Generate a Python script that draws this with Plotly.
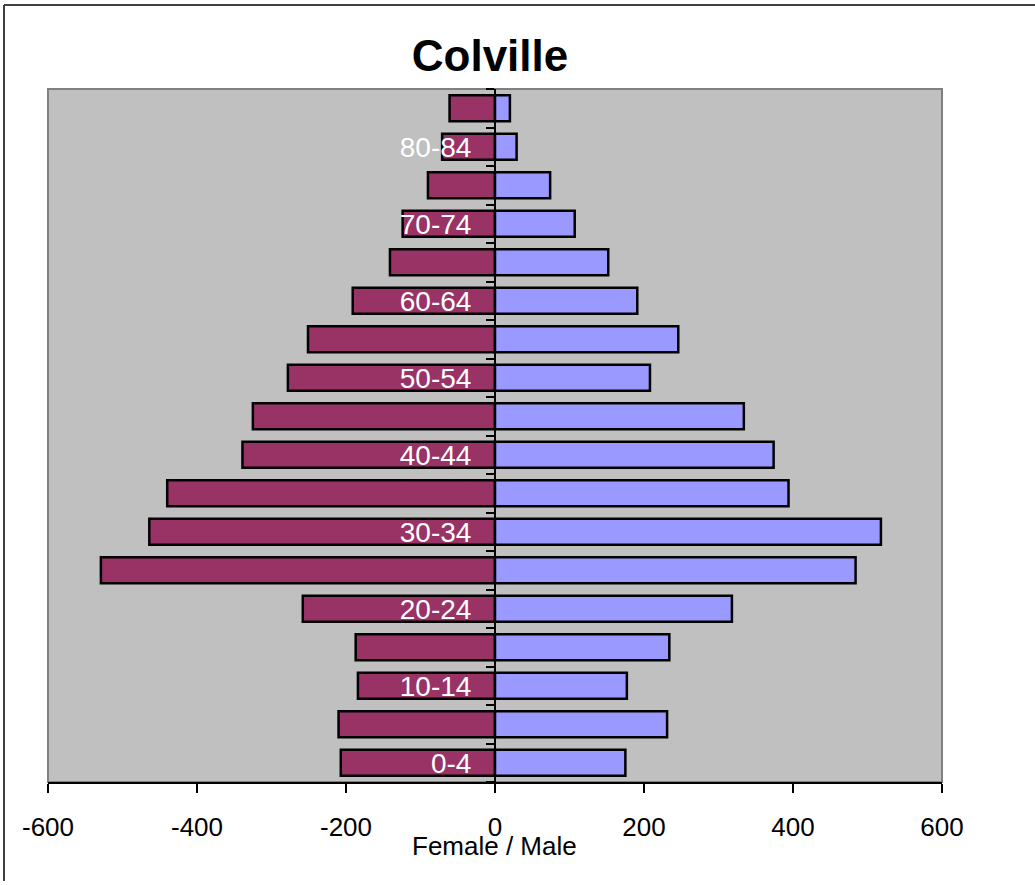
import plotly.graph_objects as go

age_groups = ["0-4", "5-9", "10-14", "15-19", "20-24", "25-29", "30-34", "35-39",
              "40-44", "45-49", "50-54", "55-59", "60-64", "65-69", "70-74",
              "75-79", "80-84", "85+"]
female = [207, 210, 184, 187, 258, 529, 464, 440, 339, 325, 278, 251, 191, 141, 124, 90, 71, 61]
male = [175, 231, 177, 234, 318, 484, 518, 394, 374, 334, 208, 246, 191, 152, 107, 74, 29, 20]
x_ticks = [-600, -400, -200, 0, 200, 400, 600]
x_ticklabels = ["-600", "-400", "-200", "0", "200", "400", "600"]
y_ticktext = [g if i % 2 == 0 else "" for i, g in enumerate(age_groups)]

FONT = "Liberation Sans, Arial, sans-serif"

fig = go.Figure()
fig.add_trace(go.Bar(
    y=age_groups, x=[-v for v in female], orientation="h", name="Female",
    width=0.68, marker=dict(color="#993366", line=dict(color="black", width=2.5)),
))
fig.add_trace(go.Bar(
    y=age_groups, x=male, orientation="h", name="Male",
    width=0.68, marker=dict(color="#9999FF", line=dict(color="black", width=2.5)),
))

W, H = 1035, 885
L, R, T, B = 48, 93, 89, 103
pw, ph = W - L - R, H - T - B

def px_x(p):
    return (p - L) / pw

def px_y(p):
    return (H - B - p) / ph

fig.update_layout(
    width=W, height=H,
    margin=dict(l=L, r=R, t=T, b=B, pad=0),
    paper_bgcolor="white", plot_bgcolor="#C0C0C0",
    barmode="overlay", showlegend=False,
    font=dict(family=FONT, color="black"),
    title=dict(text="<b>Colville</b>", x=490 / W, xanchor="center",
               y=1 - 56 / H, yanchor="middle", yref="container",
               font=dict(size=44, family=FONT, color="black")),
    xaxis=dict(range=[-600, 600], tickmode="array", tickvals=x_ticks,
               ticktext=x_ticklabels,
               ticks="outside", ticklen=9, tickwidth=1.5, tickcolor="black",
               showline=True, linecolor="black", linewidth=2,
               showgrid=False, zeroline=False,
               tickfont=dict(size=26, family=FONT, color="black"),
               ticklabelstandoff=12),
    yaxis=dict(type="category", categoryorder="array", categoryarray=age_groups,
               tickmode="array", tickvals=age_groups, ticktext=y_ticktext,
               tickson="boundaries", ticks="outside", ticklen=8, tickwidth=1.5,
               tickcolor="black", anchor="free", position=0.5, side="left",
               showline=True, linecolor="black", linewidth=2,
               showgrid=False, zeroline=False,
               tickfont=dict(size=28, family=FONT, color="white"),
               ticklabelstandoff=17),
)

fig.add_shape(type="rect", xref="paper", yref="paper", x0=0, x1=1, y0=0, y1=1,
              line=dict(color="#808080", width=2), layer="below")
# outer frame (left and top edges)
fig.add_shape(type="line", xref="paper", yref="paper",
              x0=px_x(4), x1=px_x(4), y0=px_y(881), y1=px_y(5),
              line=dict(color="#404040", width=2))
fig.add_shape(type="line", xref="paper", yref="paper",
              x0=px_x(4), x1=px_x(1035), y0=px_y(5), y1=px_y(5),
              line=dict(color="#404040", width=2))

fig.add_annotation(text="Female / Male", xref="paper", yref="paper",
                   x=px_x(494), y=px_y(846), xanchor="center", yanchor="middle",
                   showarrow=False, font=dict(size=26, family=FONT, color="black"))

fig.write_html("out.html", config={"displayModeBar": False},
               post_script="document.body.style.margin='0';")
